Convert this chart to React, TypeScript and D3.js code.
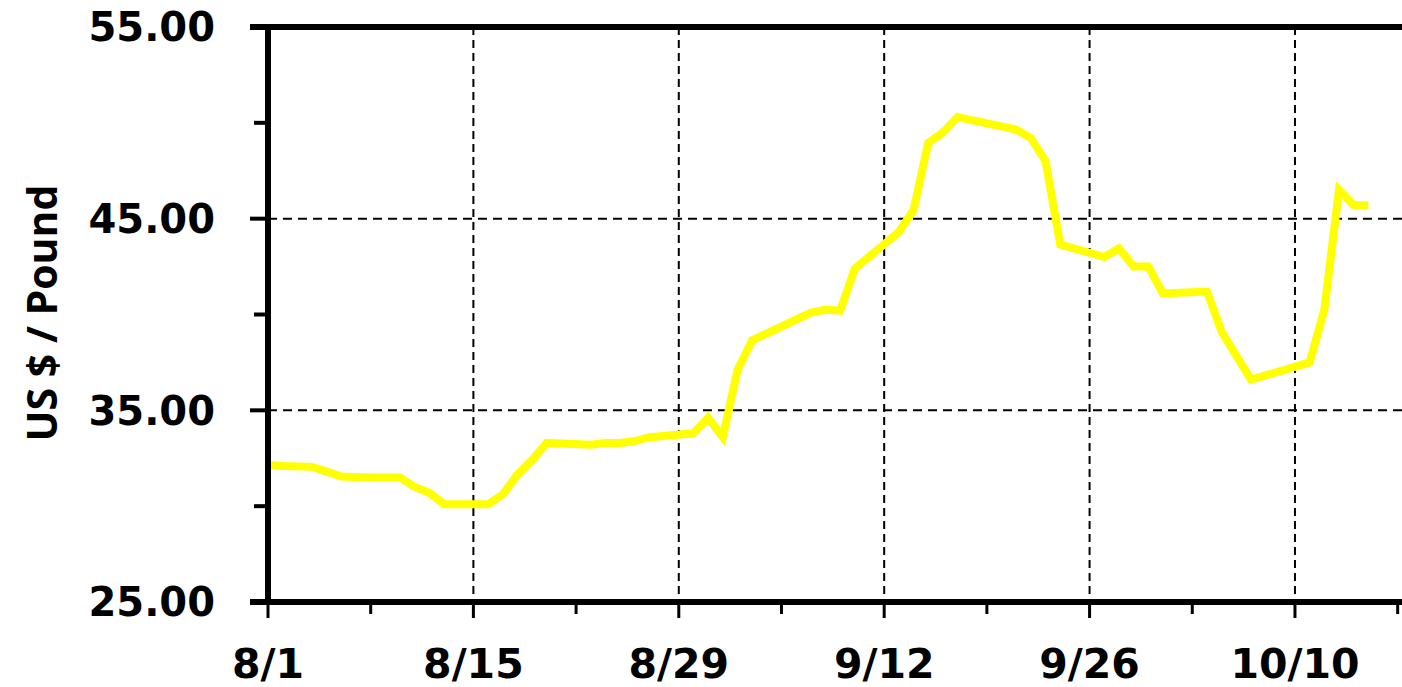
import React, { useRef, useEffect } from "react";
import * as d3 from "d3";

// price series, US $ per pound
const dates = [
  "8/1", "8/2", "8/4", "8/5", "8/6", "8/8", "8/10", "8/11", "8/12", "8/13",
  "8/16", "8/17", "8/18", "8/19", "8/20", "8/23", "8/24", "8/25", "8/26", "8/27",
  "8/30", "8/31", "9/1", "9/2", "9/3", "9/7", "9/8", "9/9", "9/10", "9/13",
  "9/14", "9/15", "9/16", "9/17", "9/21", "9/22", "9/23", "9/24", "9/27", "9/28",
  "9/29", "9/30", "10/1", "10/4", "10/5", "10/7", "10/11", "10/12", "10/13", "10/14",
  "10/15",
];
const prices = [
  32.15, 32.1, 32.05, 31.8, 31.55, 31.5, 31.5, 31.0, 30.7, 30.1,
  30.1, 30.6, 31.65, 32.4, 33.3, 33.2, 33.3, 33.3, 33.4, 33.6,
  33.8, 34.6, 33.6, 37.1, 38.65, 40.1, 40.25, 40.2, 42.4, 44.3,
  45.45, 48.95, 49.5, 50.3, 49.65, 49.2, 48.0, 43.65, 43.0, 43.45,
  42.5, 42.5, 41.1, 41.2, 39.1, 36.6, 37.5, 40.25, 46.5, 45.7,
  45.7,
];
const xTickLabels = ["8/1", "8/15", "8/29", "9/12", "9/26", "10/10"];
const yMajorTicks = [25, 35, 45, 55];
const yMinorTicks = [30, 40, 50];
const yTitle = "US $ / Pound";

const YEAR = 2023;
const parse = d3.timeParse("%m/%d/%Y");
const toDate = (s: string) => parse(`${s}/${YEAR}`) as Date;

export default function PriceChart() {
  const ref = useRef<SVGSVGElement | null>(null);

  useEffect(() => {
    const width = 1402;
    const height = 687;
    const left = 268;
    const top = 27;
    const bottom = 602;
    const pxPerDay = 14.671;

    const svg = d3.select(ref.current);
    svg.selectAll("*").remove();
    svg.attr("width", width).attr("height", height);

    const start = toDate("8/1");
    const end = d3.timeDay.offset(start, 78);
    const x = d3.scaleTime().domain([start, end]).range([left, left + 78 * pxPerDay]);
    const y = d3.scaleLinear().domain([25, 55]).range([bottom, top]);

    const labelFont = "'DejaVu Sans', Verdana, sans-serif";

    // dashed grid
    const grid = svg.append("g");
    grid.selectAll("line.h")
      .data([35, 45])
      .enter()
      .append("line")
      .attr("x1", left)
      .attr("x2", width)
      .attr("y1", (d) => y(d))
      .attr("y2", (d) => y(d))
      .attr("stroke", "#000")
      .attr("stroke-width", 2)
      .attr("stroke-dasharray", "9,6");
    grid.selectAll("line.v")
      .data(xTickLabels.slice(1))
      .enter()
      .append("line")
      .attr("x1", (d) => x(toDate(d)))
      .attr("x2", (d) => x(toDate(d)))
      .attr("y1", top)
      .attr("y2", bottom)
      .attr("stroke", "#000")
      .attr("stroke-width", 2)
      .attr("stroke-dasharray", "8,5");

    // price line
    const line = d3.line<number>()
      .x((_, i) => x(toDate(dates[i])))
      .y((d) => y(d));
    svg.append("path")
      .datum(prices)
      .attr("d", line)
      .attr("fill", "none")
      .attr("stroke", "#ffff00")
      .attr("stroke-width", 8)
      .attr("stroke-linejoin", "miter");

    // frame: top border, left axis, bottom axis
    svg.append("line")
      .attr("x1", 250).attr("x2", width)
      .attr("y1", top).attr("y2", top)
      .attr("stroke", "#000").attr("stroke-width", 6);
    svg.append("line")
      .attr("x1", left).attr("x2", left)
      .attr("y1", top - 3).attr("y2", bottom + 3)
      .attr("stroke", "#000").attr("stroke-width", 6);
    svg.append("line")
      .attr("x1", 250).attr("x2", width)
      .attr("y1", bottom).attr("y2", bottom)
      .attr("stroke", "#000").attr("stroke-width", 6);

    // y ticks
    svg.selectAll("line.ymaj")
      .data(yMajorTicks)
      .enter()
      .append("line")
      .attr("x1", 250).attr("x2", left)
      .attr("y1", (d) => y(d)).attr("y2", (d) => y(d))
      .attr("stroke", "#000").attr("stroke-width", 4);
    svg.selectAll("line.ymin")
      .data(yMinorTicks)
      .enter()
      .append("line")
      .attr("x1", 254).attr("x2", left)
      .attr("y1", (d) => y(d)).attr("y2", (d) => y(d))
      .attr("stroke", "#000").attr("stroke-width", 4);

    svg.selectAll("text.ylab")
      .data(yMajorTicks)
      .enter()
      .append("text")
      .attr("x", 215)
      .attr("y", (d) => y(d))
      .attr("dy", "0.36em")
      .attr("text-anchor", "end")
      .attr("font-family", labelFont)
      .attr("font-weight", "bold")
      .attr("font-size", 40)
      .text((d) => d.toFixed(2));

    // x ticks, weekly (long ones every two weeks)
    const weeks = d3.range(0, 78, 7).map((d) => d3.timeDay.offset(start, d));
    svg.selectAll("line.xt")
      .data(weeks)
      .enter()
      .append("line")
      .attr("x1", (d) => x(d)).attr("x2", (d) => x(d))
      .attr("y1", bottom)
      .attr("y2", (_, i) => (i % 2 === 0 ? 618 : 614))
      .attr("stroke", "#000").attr("stroke-width", 3);

    svg.selectAll("text.xlab")
      .data(xTickLabels)
      .enter()
      .append("text")
      .attr("x", (d) => x(toDate(d)))
      .attr("y", 678)
      .attr("text-anchor", "middle")
      .attr("font-family", labelFont)
      .attr("font-weight", "bold")
      .attr("font-size", 41)
      .text((d) => d);

    // y title
    svg.append("text")
      .attr("transform", "translate(57,313) rotate(-90)")
      .attr("text-anchor", "middle")
      .attr("font-family", "'Open Sans', sans-serif")
      .attr("font-weight", 700)
      .attr("font-size", 41)
      .text(yTitle);
  }, []);

  return (
    <div style={{ position: "absolute", left: 0, top: 0, background: "#fff" }}>
      <svg ref={ref}></svg>
    </div>
  );
}
